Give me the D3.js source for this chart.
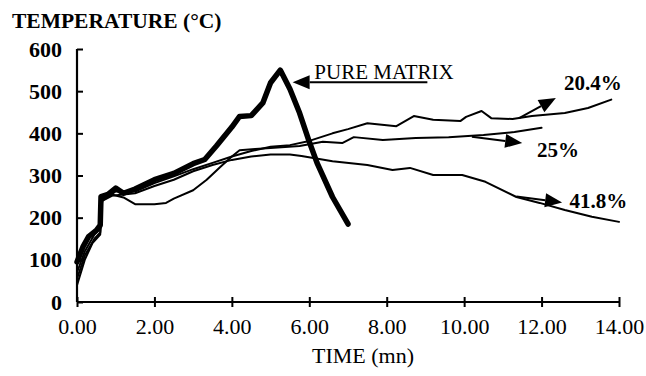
<!DOCTYPE html>
<html>
<head>
<meta charset="utf-8">
<script src="https://cdn.jsdelivr.net/npm/d3@7"></script>
<style>
  body { margin: 0; background: #fff; }
  text { font-family: "Liberation Serif", "Times New Roman", serif; fill: #000; }
</style>
</head>
<body>
<div id="chart"></div>
<script>
// values: [time (mn), temperature (°C)]
const pureMatrix = [[0,95],[0.15,130],[0.3,155],[0.5,170],[0.6,182],[0.62,250],[0.8,255],[1.0,270],[1.2,258],[1.5,268],[2.0,290],[2.5,305],[3.0,328],[3.3,338],[3.6,370],[4.0,415],[4.2,440],[4.5,442],[4.8,472],[5.0,520],[5.25,550],[5.5,505],[5.75,448],[6.0,380],[6.2,330],[6.6,249],[7.0,185]];
const pct204 = [[0,40],[0.2,100],[0.4,140],[0.6,160],[0.65,240],[0.8,250],[1.0,262],[1.5,262],[2.0,282],[2.5,298],[3.0,315],[3.5,330],[4.0,345],[4.5,358],[5.0,368],[5.5,372],[6.0,382],[6.6,400],[7.0,410],[7.5,424],[8.25,417],[8.7,441],[9.2,432],[9.9,429],[10.05,439],[10.45,453],[10.7,436],[11.25,434],[11.75,441],[12.6,448],[13.2,460],[13.8,480]];
const pct25 = [[0,70],[0.2,120],[0.45,160],[0.6,175],[0.65,245],[0.9,255],[1.2,248],[1.5,232],[2.0,232],[2.3,235],[2.5,245],[3.0,265],[3.35,290],[3.7,320],[4.0,345],[4.2,360],[4.6,363],[5.0,365],[5.75,370],[6.35,380],[6.85,377],[7.15,391],[7.9,384],[8.75,389],[9.6,391],[10.5,396],[11.3,403],[12.0,413]];
const pct418 = [[0,55],[0.2,110],[0.45,150],[0.6,165],[0.65,240],[0.9,252],[1.2,255],[1.5,258],[2.0,275],[2.5,290],[3.0,310],[3.5,325],[4.0,337],[4.5,345],[5.0,350],[5.5,350],[5.8,346],[6.6,334],[7.5,325],[8.15,313],[8.6,318],[9.2,301],[9.95,301],[10.55,285],[11.35,249],[11.95,235],[12.6,218],[13.3,202],[14.0,190]];

const xTicks = [0, 2, 4, 6, 8, 10, 12, 14];
const yTicks = [0, 100, 200, 300, 400, 500, 600];

// annotation labels: text, label anchor, arrow start, arrow tip (data units)
const labels = [
  { text: 'PURE MATRIX', at: [6.13, 528], from: [9.05, 521], to: [5.57, 521], bold: false },
  { text: '20.4%', at: [12.58, 502], from: [11.42, 436], to: [12.37, 484], bold: true },
  { text: '25%', at: [11.88, 343], from: [10.2, 392], to: [11.5, 377], bold: true },
  { text: '41.8%', at: [12.72, 223], from: [11.35, 250], to: [12.53, 236], bold: true }
];

const width = 646, height = 376;
const svg = d3.select('#chart').append('svg')
  .attr('width', width)
  .attr('height', height);

const x = d3.scaleLinear().domain([0, 14]).range([77, 619]);
const y = d3.scaleLinear().domain([0, 600]).range([302, 49]);

// X axis
const xAxis = svg.append('g')
  .attr('transform', `translate(0,${y(0)})`)
  .call(d3.axisBottom(x).tickValues(xTicks).tickFormat(d3.format('.2f')).tickSize(5).tickPadding(11));
xAxis.select('.domain').attr('stroke-width', 2.2).attr('d', `M${x(0)},0H${x(14)}`);
xAxis.selectAll('.tick line').attr('y1', -5).attr('stroke-width', 2);
xAxis.selectAll('text')
  .style('font-family', '"Liberation Serif", serif')
  .style('font-size', '22px');

// Y axis
const yAxis = svg.append('g')
  .attr('transform', `translate(${x(0)},0)`)
  .call(d3.axisLeft(y).tickValues(yTicks).tickSize(6).tickPadding(9));
yAxis.select('.domain').attr('stroke-width', 2.2).attr('d', `M0,${y(0)}V${y(600)}`);
yAxis.selectAll('.tick line').attr('x2', 6).attr('stroke-width', 2);
yAxis.selectAll('text')
  .style('font-family', '"Liberation Serif", serif')
  .style('font-size', '22px')
  .style('font-weight', 'bold');

// axis titles
svg.append('text')
  .attr('x', 12)
  .attr('y', 28)
  .style('font-size', '21.5px')
  .style('font-weight', 'bold')
  .text('TEMPERATURE (°C)');

svg.append('text')
  .attr('x', 363)
  .attr('y', 363)
  .style('text-anchor', 'middle')
  .style('font-size', '22px')
  .text('TIME (mn)');

const line = d3.line()
  .x(d => x(d[0]))
  .y(d => y(d[1]));

const series = [
  { data: pct204, w: 2 },
  { data: pct25, w: 2 },
  { data: pct418, w: 2 },
  { data: pureMatrix, w: 5.5 }
];

svg.append('g')
  .selectAll('path')
  .data(series)
  .enter()
  .append('path')
  .attr('d', d => line(d.data))
  .attr('fill', 'none')
  .attr('stroke', '#000')
  .attr('stroke-width', d => d.w)
  .attr('stroke-linejoin', 'round')
  .attr('stroke-linecap', 'round');

// arrows
const ann = svg.append('g');
labels.forEach(l => {
  const x0 = x(l.from[0]), y0 = y(l.from[1]);
  const x1 = x(l.to[0]), y1 = y(l.to[1]);
  const a = Math.atan2(y1 - y0, x1 - x0);
  const len = 17, half = 7;
  const bx = x1 - len * Math.cos(a), by = y1 - len * Math.sin(a);
  ann.append('line')
    .attr('x1', x0).attr('y1', y0)
    .attr('x2', bx).attr('y2', by)
    .attr('stroke', '#000')
    .attr('stroke-width', 2);
  ann.append('path')
    .attr('d', `M${x1},${y1}L${bx + half * Math.sin(a)},${by - half * Math.cos(a)}L${bx - half * Math.sin(a)},${by + half * Math.cos(a)}Z`)
    .attr('fill', '#000');
  ann.append('text')
    .attr('x', x(l.at[0]))
    .attr('y', y(l.at[1]))
    .style('font-size', l.bold ? '21px' : '21px')
    .style('font-weight', l.bold ? 'bold' : 'normal')
    .text(l.text);
});
</script>
</body>
</html>
